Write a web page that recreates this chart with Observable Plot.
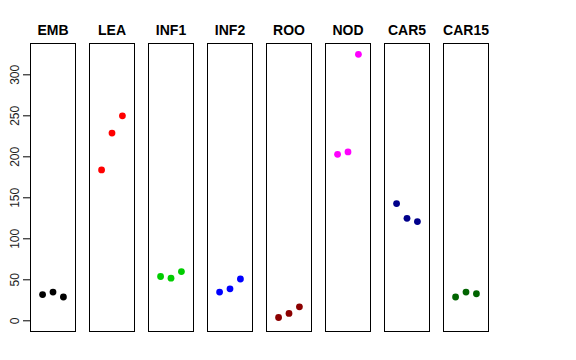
<!DOCTYPE html>
<html>
<head>
<meta charset="utf-8">
<script src="https://cdn.jsdelivr.net/npm/d3@7"></script>
<script src="https://cdn.jsdelivr.net/npm/@observablehq/plot@0.6"></script>
<style>
  html, body { margin: 0; padding: 0; background: #fff; }
</style>
</head>
<body>
<div id="chart"></div>
<script>
const samples = ["EMB", "LEA", "INF1", "INF2", "ROO", "NOD", "CAR5", "CAR15"];
const colors = ["#000000", "#FF0000", "#00CD00", "#0000FF", "#8B0000", "#FF00FF", "#00008B", "#006400"];
const EMB = [32, 35, 29];
const LEA = [184, 229, 250];
const INF1 = [54, 52, 60];
const INF2 = [35, 39, 51];
const ROO = [4, 9, 17];
const NOD = [203, 206, 325];
const CAR5 = [143, 125, 121];
const CAR15 = [29, 35, 33];
const yTicks = [0, 50, 100, 150, 200, 250, 300];

const series = [EMB, LEA, INF1, INF2, ROO, NOD, CAR5, CAR15];
const data = [];
samples.forEach((s, i) => {
  series[i].forEach((v, j) => data.push({sample: s, rep: j + 1, value: v, color: colors[i]}));
});

const chart = Plot.plot({
  width: 576,
  height: 360,
  marginTop: 43,
  marginBottom: 29,
  marginLeft: 29,
  marginRight: 88,
  style: {fontFamily: "'Liberation Sans', Arial, sans-serif", background: "#fff"},
  fx: {domain: samples, paddingInner: 0.245, paddingOuter: 0, axis: null},
  x: {domain: [-0.16, 4.16], axis: null},
  y: {domain: [-13.05, 338.2], axis: null},
  color: {type: "identity"},
  marks: [
    Plot.frame({stroke: "black", strokeWidth: 1}),
    Plot.axisY({ticks: yTicks, tickSize: 7, tickPadding: 5, tickRotate: -90, fontSize: 12, stroke: "black", fill: "#222", label: null}),
    Plot.dot(data, {fx: "sample", x: "rep", y: "value", fill: "color", r: 3.4, stroke: null}),
    Plot.text(samples, {fx: d => d, text: d => d, frameAnchor: "top", dy: -9, lineAnchor: "bottom", fontWeight: "bold", fontSize: 14, fill: "black"})
  ]
});
document.getElementById("chart").appendChild(chart);
</script>
</body>
</html>
